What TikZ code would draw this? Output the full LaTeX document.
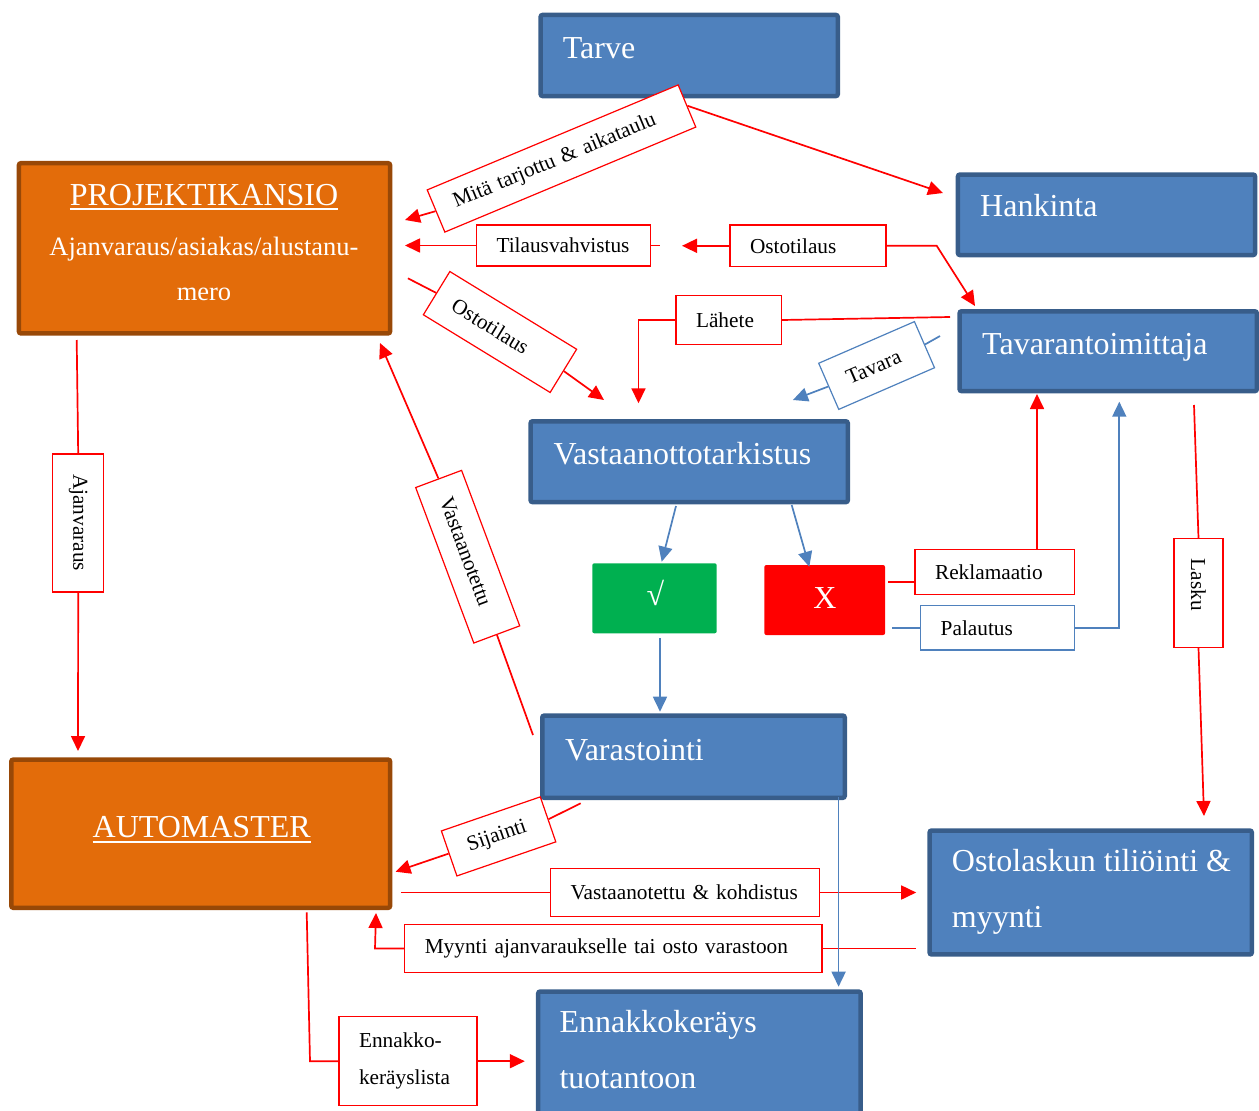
\documentclass[tikz,border=0pt]{standalone}
\usepackage{fontspec}
\setmainfont{Liberation Serif}
\usetikzlibrary{arrows.meta}
\definecolor{bfill}{HTML}{4F81BD}
\definecolor{bline}{HTML}{385D8A}
\definecolor{ofill}{HTML}{E36C0A}
\definecolor{oline}{HTML}{984807}
\definecolor{gfill}{HTML}{00B050}
\definecolor{conblue}{HTML}{4F81BD}
\newcommand\boxfont{\fontsize{32}{40}\selectfont}
\newcommand\midfont{\fontsize{26.5}{32}\selectfont}
\newcommand\lblfont{\fontsize{21.3}{37}\selectfont}
\newsavebox\ulbox
\newcommand\ulx[1]{\sbox\ulbox{#1}\rlap{\rule[-5pt]{\wd\ulbox}{1.7pt}}\usebox\ulbox}
\begin{document}
\begin{tikzpicture}[x=1pt,y=-1pt,
  bluebox/.style={draw=bline, fill=bfill, line width=4.5pt, rounded corners=2pt, inner sep=0pt},
  orangebox/.style={draw=oline, fill=ofill, line width=4.5pt, rounded corners=2pt, inner sep=0pt},
  flatbox/.style={rounded corners=2pt, inner sep=0pt},
  btxt/.style={text=white, font=\boxfont, inner sep=0pt, anchor=base west},
  ctxt/.style={text=white, font=\boxfont, inner sep=0pt, anchor=base},
  lbl/.style={draw=red, fill=white, line width=1.2pt, inner xsep=20pt, inner ysep=0pt, align=left, font=\lblfont, text=black},
  lblb/.style={lbl, draw=conblue},
  con/.style={draw=red, line width=1.7pt},
  bcon/.style={draw=conblue, line width=1.7pt},
  arrowed/.style={-{Triangle[length=15pt,width=14pt]}}
]
\useasboundingbox (0,0) rectangle (1259,1111);
\clip (0,0) rectangle (1259,1111);

% main boxes
\node[bluebox, minimum width=297.2pt, minimum height=81.1pt] (tarve) at (689.2,55.5) {};
\node[bluebox, minimum width=297.1pt, minimum height=80.5pt] (hank) at (1106.5,214.8) {};
\node[bluebox, minimum width=297.2pt, minimum height=79.8pt] (tavtoim) at (1108.2,351.2) {};
\node[bluebox, minimum width=317.2pt, minimum height=80.8pt] (vtark) at (689.2,461.7) {};
\node[bluebox, minimum width=302.5pt, minimum height=82.2pt] (varast) at (693.5,756.7) {};
\node[bluebox, minimum width=322.2pt, minimum height=123.9pt] (ostol) at (1090.7,892.5) {};
\node[bluebox, minimum width=322.4pt, minimum height=123.9pt] (ennak) at (699.4,1053.5) {};
\node[orangebox, minimum width=371.1pt, minimum height=170.2pt] (proj) at (204.5,248.3) {};
\node[orangebox, minimum width=378.8pt, minimum height=148.2pt] (auto) at (200.7,833.7) {};
\node[flatbox, fill=gfill, minimum width=124.4pt, minimum height=70pt] (chk) at (654.5,598.3) {};
\node[flatbox, fill=red, minimum width=120.7pt, minimum height=70pt] (xbox) at (824.7,600) {};

% texts in boxes
\node[btxt] (tarveT) at (562.7,58.3) {Tarve};
\node[btxt] (hankT) at (980,216.7) {Hankinta};
\node[btxt] (tavT) at (982,354) {Tavarantoimittaja};
\node[btxt] (vtT) at (553.3,464) {Vastaanottotarkistus};
\node[btxt] (varT) at (565,760) {Varastointi};
\node[btxt] (olT1) at (951.7,871.7) {Ostolaskun tiliöinti \&};
\node[btxt] (olT2) at (951.7,927.3) {myynti};
\node[btxt] (enT1) at (559.3,1032.7) {Ennakkokeräys};
\node[btxt] (enT2) at (559.3,1088.3) {tuotantoon};
\node[ctxt] (projT1) at (204,205) {\ulx{PROJEKTIKANSIO}};
\node[ctxt, font=\midfont] (projT2) at (204,255) {Ajanvaraus/asiakas/alustanu-};
\node[ctxt, font=\midfont] (projT3) at (204,300.7) {mero};
\node[ctxt] (autoT) at (201.7,837.7) {\ulx{AUTOMASTER}};
\node[text=white, font=\boxfont, inner sep=0pt] (chkT) at (655.5,592.5) {√};
\node[ctxt] (xT) at (825,608.3) {X};

% label boxes
\node[lbl, text width=232pt, minimum height=45.7pt, rotate=22.7] (mita) at (561.5,158.5) {Mitä tarjottu \& aikataulu};
\node[lbl, text width=134pt, minimum height=41pt] (tilaus) at (563.5,245.5) {Tilausvahvistus};
\node[lbl, text width=116pt, minimum height=41.5pt] (ostot) at (808,245.8) {Ostotilaus};
\node[lbl, text width=108.7pt, minimum height=50.7pt, rotate=-31.5] (ost2) at (500,332) {Ostotilaus};
\node[lbl, text width=65.4pt, minimum height=48.6pt] (lahete) at (728.7,320) {Lähete};
\node[lblb, text width=64.4pt, minimum height=50.3pt, rotate=23.5] (tavara) at (876.6,365.5) {Tavara};
\node[lbl, text width=126pt, minimum height=49pt, rotate=-69.5] (vast) at (467.7,556.7) {Vastaanotettu};
\node[lbl, text width=98pt, minimum height=51pt, rotate=-90] (ajan) at (78.2,523) {Ajanvaraus};
\node[lbl, text width=119.3pt, minimum height=45pt] (rek) at (994.7,571.8) {Reklamaatio};
\node[lblb, text width=114pt, minimum height=44.3pt] (pal) at (997.7,627.8) {Palautus};
\node[lbl, text width=68.6pt, minimum height=49pt, rotate=-90] (lasku) at (1198.5,593) {Lasku};
\node[lbl, text width=64.6pt, minimum height=47.6pt, rotate=19] (sij) at (498.6,836.4) {Sijainti};
\node[lbl, text width=229pt, minimum height=48.4pt] (vk) at (685.2,892.5) {Vastaanotettu \& kohdistus};
\node[lbl, text width=377.2pt, minimum height=48.4pt] (my) at (613.4,948.5) {Myynti ajanvaraukselle tai osto varastoon};
\node[lbl, text width=98pt, minimum height=89pt] (enn) at (408,1061.2) {Ennakko-\\keräyslista};

% coordinates
\coordinate (hkTip) at (943,193);
\coordinate (mitaTip) at (405,220);
\coordinate (tilTip) at (405,245.5);
\coordinate (tilStub) at (660,245.5);
\coordinate (ostTip) at (682,245.8);
\coordinate (ostBend) at (936.7,245.8);
\coordinate (tavTip) at (975,306);
\coordinate (o2S) at (407.9,278.3);
\coordinate (o2Tip) at (604,400);
\coordinate (lhS) at (950,317);
\coordinate (lhBend) at (638.5,320);
\coordinate (lhTip) at (638.5,403.3);
\coordinate (tvS) at (940,336);
\coordinate (tvTip) at (792.9,400);
\coordinate (vtA) at (676,506);
\coordinate (chkTip) at (661.7,561.7);
\coordinate (vtB) at (791.7,505);
\coordinate (xTip) at (809.3,566.7);
\coordinate (chkS) at (660,638.3);
\coordinate (varTip) at (660,711.7);
\coordinate (xR) at (888.3,581.7);
\coordinate (rekTip) at (1037,394);
\coordinate (xP) at (892,627.8);
\coordinate (palBend) at (1119.3,627.8);
\coordinate (palTip) at (1119.3,401.7);
\coordinate (laS) at (1194,405);
\coordinate (laTip) at (1204,816);
\coordinate (vaS) at (533,735);
\coordinate (vaTip) at (380,343);
\coordinate (ajS) at (76.7,340);
\coordinate (ajTip) at (78,751);
\coordinate (sijS) at (580.7,803.3);
\coordinate (sijTip) at (395.5,871.7);
\coordinate (vkS) at (401.4,892.5);
\coordinate (vkTip) at (916.2,892.5);
\coordinate (myS) at (915.5,948.5);
\coordinate (myBend) at (375,948.5);
\coordinate (myTip) at (376,913);
\coordinate (blS) at (838.6,797);
\coordinate (blTip) at (838.6,986.7);
\coordinate (enS) at (306.7,912.3);
\coordinate (enBend) at (310,1061.2);
\coordinate (enTip) at (524.8,1061.2);

% connectors
\draw[con,arrowed] (mita.east) -- (hkTip);
\draw[con,arrowed] (mita.west) -- (mitaTip);
\draw[con,arrowed] (tilaus.west) -- (tilTip);
\draw[con] (tilaus.east) -- (tilStub);
\draw[con,arrowed] (ostot.west) -- (ostTip);
\draw[con,arrowed] (ostot.east) -- (ostBend) -- (tavTip);
\draw[con] (o2S) -- (ost2.west);
\draw[con,arrowed] (ost2.east) -- (o2Tip);
\draw[con] (lhS) -- (lahete.east);
\draw[con,arrowed] (lahete.west) -- (lhBend) -- (lhTip);
\draw[bcon] (tvS) -- (tavara.east);
\draw[bcon,arrowed] (tavara.west) -- (tvTip);
\draw[bcon,arrowed] (vtA) -- (chkTip);
\draw[bcon,arrowed] (vtB) -- (xTip);
\draw[bcon,arrowed] (chkS) -- (varTip);
\draw[con] (xR) -- (xR -| rek.west);
\draw[con,arrowed] (rek.north -| rekTip) -- (rekTip);
\draw[bcon] (xP) -- (pal.west);
\draw[bcon,arrowed] (pal.east) -- (palBend) -- (palTip);
\draw[con] (laS) -- (lasku.west);
\draw[con,arrowed] (lasku.east) -- (laTip);
\draw[con] (vaS) -- (vast.east);
\draw[con,arrowed] (vast.west) -- (vaTip);
\draw[con] (ajS) -- (ajan.west);
\draw[con,arrowed] (ajan.east) -- (ajTip);
\draw[con] (sijS) -- (sij.east);
\draw[con,arrowed] (sij.west) -- (sijTip);
\draw[con] (vkS) -- (vk.west);
\draw[con,arrowed] (vk.east) -- (vkTip);
\draw[con] (myS) -- (my.east);
\draw[con,arrowed] (my.west) -- (myBend) -- (myTip);
\draw[bcon,arrowed] (blS) -- (blTip);
\draw[con] (enS) -- (enBend) -- (enn.west);
\draw[con,arrowed] (enn.east) -- (enTip);
\end{tikzpicture}
\end{document}
